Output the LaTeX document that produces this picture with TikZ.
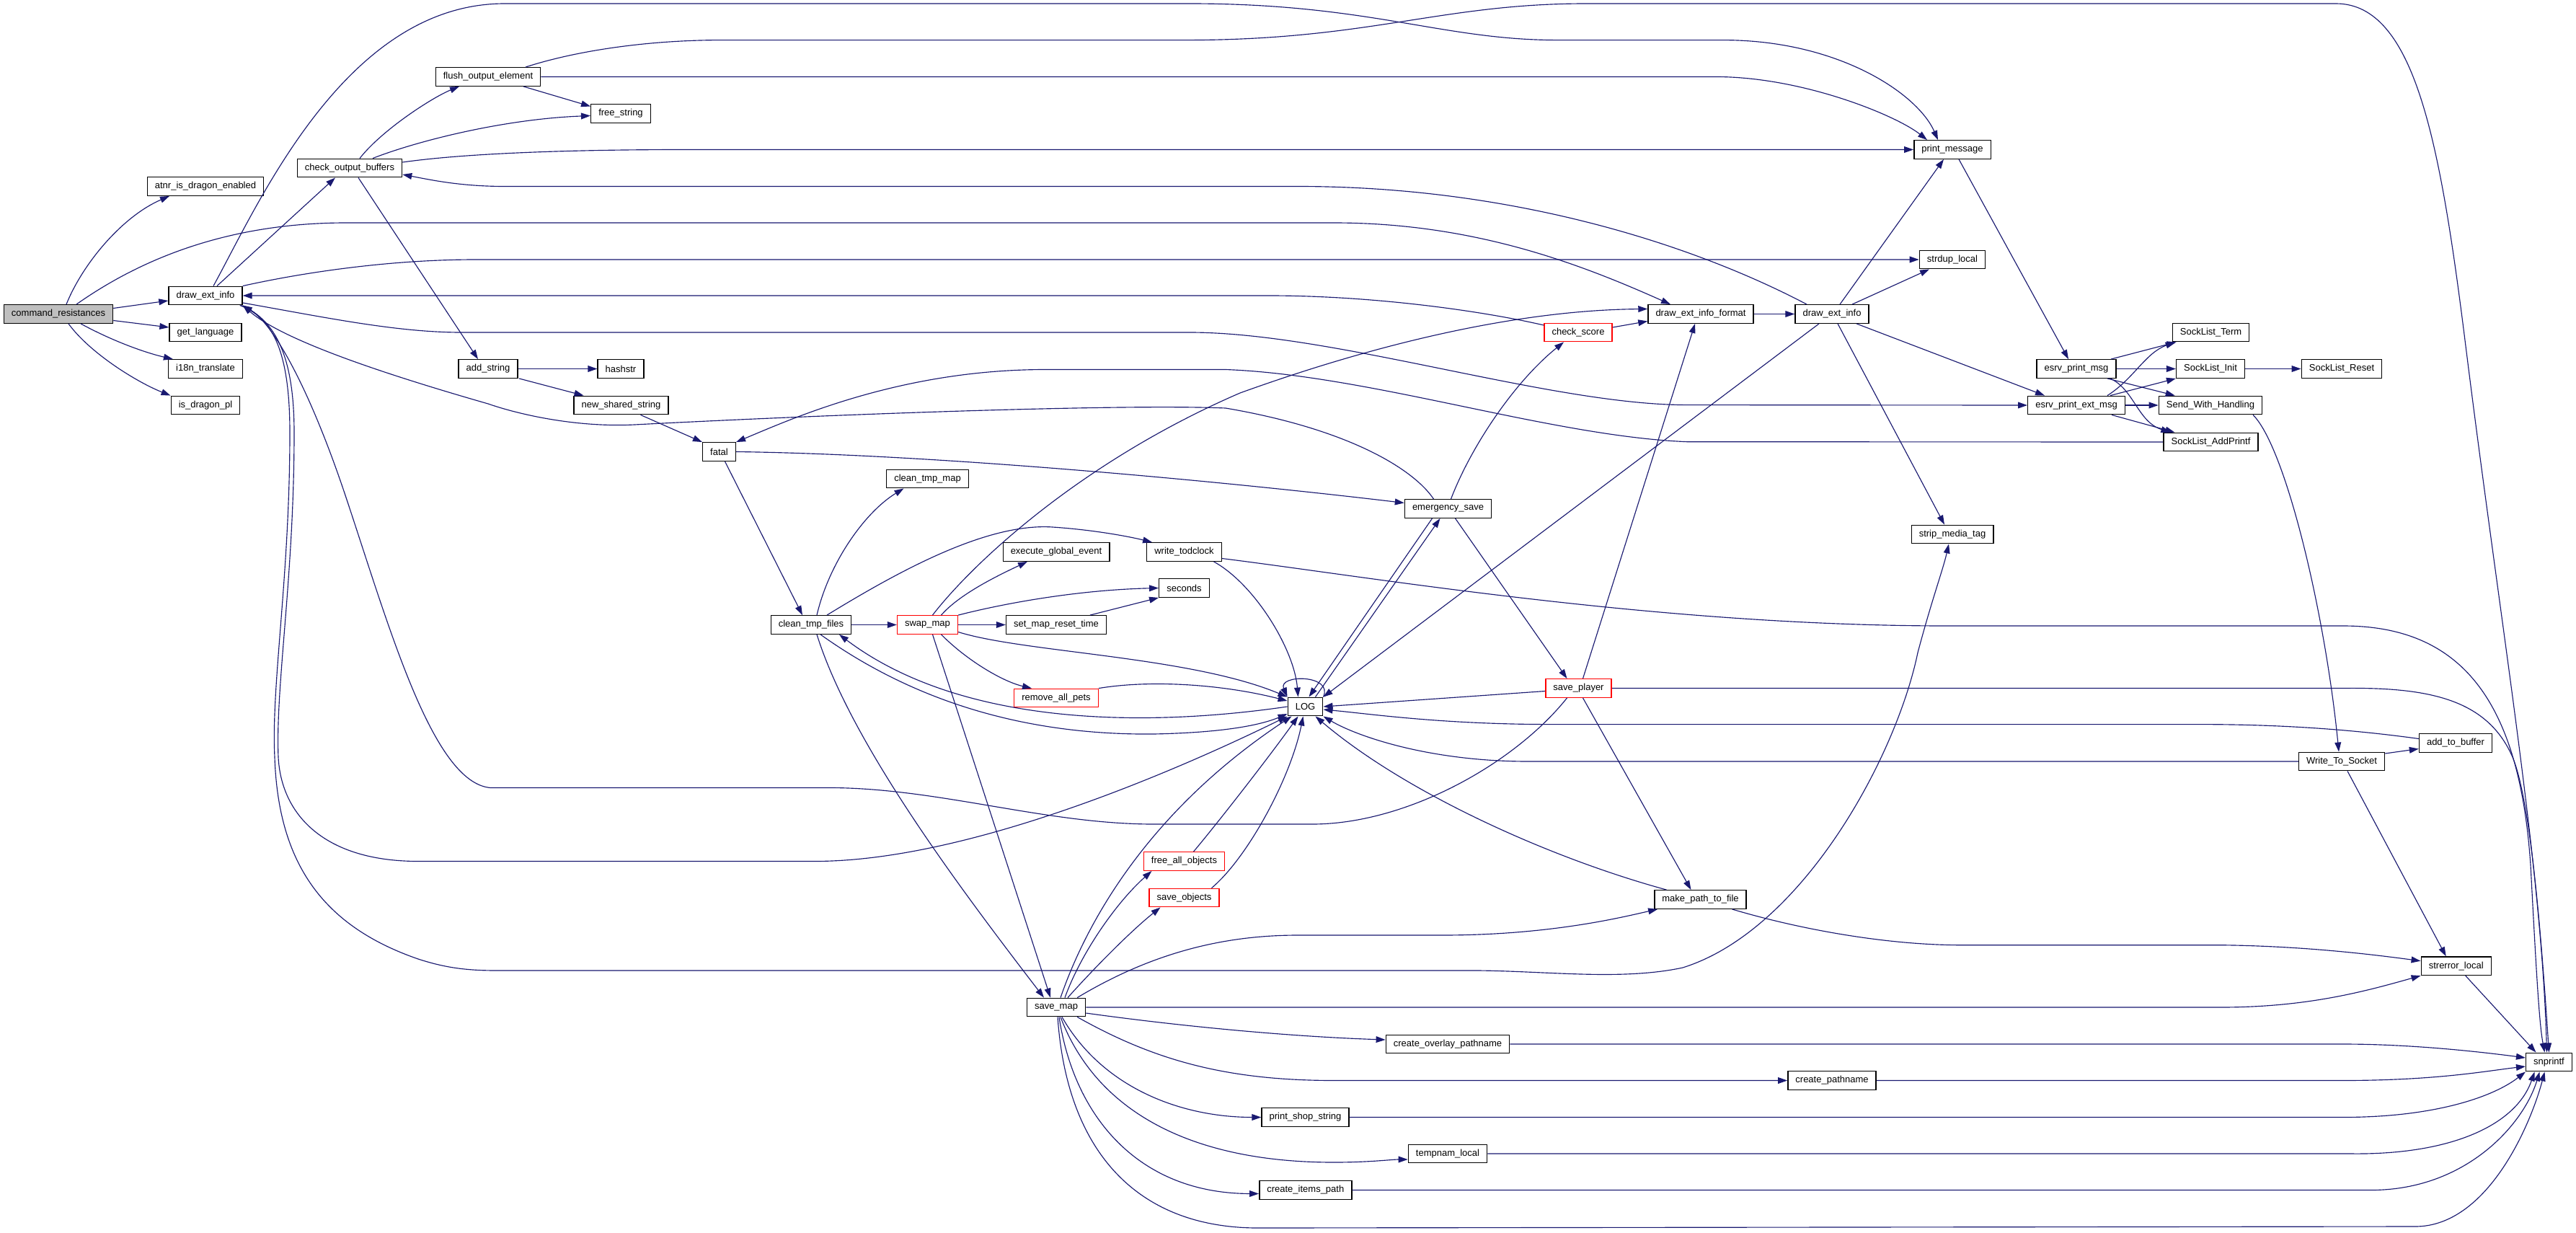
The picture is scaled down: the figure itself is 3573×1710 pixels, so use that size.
\documentclass[tikz,border=0pt]{standalone}
\usepackage{fontspec}
\setmainfont{Liberation Sans}
\usetikzlibrary{arrows.meta,calc}
\definecolor{edgec}{HTML}{191970}
\definecolor{rootfill}{HTML}{BFBFBF}
\tikzset{
  box/.style={draw=black, line width=0.8pt, fill=white, minimum height=14.5pt, inner xsep=6pt, inner ysep=0pt, font=\fontsize{7.4}{8}\selectfont},
  redbox/.style={box, draw=red},
  rootbox/.style={box, fill=rootfill},
  edge/.style={draw=edgec, line width=0.65pt, -{Triangle[length=7.4pt,width=5pt]}}
}
\begin{document}
\begin{tikzpicture}[x=0.02cm,y=-0.02cm]
\useasboundingbox (0,0) rectangle (3573,1710);
% nodes
\node[rootbox] (cr) at (81,435.5) {command\_resistances};
\node[box] (atnr) at (285,258.5) {atnr\_is\_dragon\_enabled};
\node[box] (dei) at (285,410) {draw\_ext\_info};
\node[box] (getl) at (285,461) {get\_language};
\node[box] (i18n) at (285,511.5) {i18n\_translate};
\node[box] (isd) at (285,562) {is\_dragon\_pl};
\node[box] (cob) at (485,233) {check\_output\_buffers};
\node[box] (foe) at (677,106.5) {flush\_output\_element};
\node[box] (fs) at (861,157.5) {free\_string};
\node[box] (adds) at (677,511.5) {add\_string};
\node[box] (hash) at (861,511.5) {hashstr};
\node[box] (nss) at (861.5,562) {new\_shared\_string};
\node[box] (fatal) at (997.5,626.5) {fatal};
\node[box] (ctm) at (1286.5,664) {clean\_tmp\_map};
\node[box] (ctf) at (1125,866.5) {clean\_tmp\_files};
\node[redbox] (swap) at (1286.5,866.5) {swap\_map};
\node[box] (ege) at (1465,765.5) {execute\_global\_event};
\node[box] (wtc) at (1642.5,765.5) {write\_todclock};
\node[box] (sec) at (1642.5,815.5) {seconds};
\node[box] (smrt) at (1465,866.5) {set\_map\_reset\_time};
\node[redbox] (rap) at (1465,968) {remove\_all\_pets};
\node[box] (es) at (2008.5,705.5) {emergency\_save};
\node[box] (log) at (1810.5,980) {LOG};
\node[redbox] (sp) at (2189.5,954.5) {save\_player};
\node[box] (deif) at (2359,435.5) {draw\_ext\_info\_format};
\node[box] (dei2) at (2541,435.5) {draw\_ext\_info};
\node[redbox] (cs) at (2189,461) {check\_score};
\node[box] (pm) at (2708,207.5) {print\_message};
\node[box] (sdl) at (2708,360) {strdup\_local};
\node[box] (epm) at (2880,511.5) {esrv\_print\_msg};
\node[box] (epem) at (2880,562) {esrv\_print\_ext\_msg};
\node[box] (slt) at (3066.5,461) {SockList\_Term};
\node[box] (sli) at (3066,511.5) {SockList\_Init};
\node[box] (slr) at (3248,511.5) {SockList\_Reset};
\node[box] (swh) at (3066,562) {Send\_With\_Handling};
\node[box] (slap) at (3066.5,613) {SockList\_AddPrintf};
\node[box] (smt) at (2708,741) {strip\_media\_tag};
\node[box] (atb) at (3406,1030.5) {add\_to\_buffer};
\node[box] (wts) at (3248,1056) {Write\_To\_Socket};
\node[redbox] (fao) at (1642.5,1194.5) {free\_all\_objects};
\node[redbox] (so) at (1642.5,1245) {save\_objects};
\node[box] (smap) at (1465,1397) {save\_map};
\node[box] (mptf) at (2358.5,1247.5) {make\_path\_to\_file};
\node[box] (cop) at (2008,1448) {create\_overlay\_pathname};
\node[box] (cp) at (2541,1498.5) {create\_pathname};
\node[box] (pss) at (1810.5,1549.5) {print\_shop\_string};
\node[box] (tl) at (2008,1600) {tempnam\_local};
\node[box] (cip) at (1810.8,1650.5) {create\_items\_path};
\node[box] (sel) at (3406.7,1339.7) {strerror\_local};
\node[box] (snp) at (3535.5,1473) {snprintf};
% edges from command_resistances
\draw[edge] ($(cr.north)+(11,0)$) .. controls (115,365) and (170,300) .. ($(atnr.south)+(-50,0)$);
\draw[edge] ($(cr.east)+(0,-8)$) -- ($(dei.west)+(0,7)$);
\draw[edge] ($(cr.east)+(0,9)$) -- ($(getl.west)+(0,-7)$);
\draw[edge] ($(cr.south)+(31,0)$) .. controls (160,475) and (205,490) .. ($(i18n.north west)+(7,0)$);
\draw[edge] ($(cr.south)+(14,0)$) .. controls (125,490) and (190,530) .. (isd.north west);
\draw[edge] ($(cr.north)+(25,0)$) .. controls (180,370) and (300,309) .. (480,309) -- (1850,309) .. controls (2050,309) and (2200,370) .. ($(deif.north)+(-42,0)$);
% draw_ext_info (left)
\draw[edge] ($(dei.north)+(16,0)$) -- ($(cob.south)+(-20,0)$);
\draw[edge] ($(dei.north)+(11,0)$) .. controls (360,280) and (480,5) .. (700,5) -- (1650,5) .. controls (1900,5) and (2000,55.6) .. (2160,55.6) -- (2390,55.6) .. controls (2550,55.6) and (2660,130) .. ($(pm.north)+(-20,0)$);
\draw[edge] (dei.north east) .. controls (420,378) and (540,360) .. (660,360) -- (sdl.west);
\draw[edge] ($(dei.east)+(0,10)$) .. controls (450,440) and (550,461) .. (640,461) -- (1650,461) .. controls (1850,461) and (2150,561.6) .. (2340,561.6) -- (epem.west);
\draw[edge] ($(dei.south east)+(-4,0)$) .. controls (375,440) and (402,480) .. (402,600) .. controls (402,800) and (376,950) .. (381,1050) .. controls (386,1200) and (450,1285) .. (580,1330) .. controls (620,1343) and (650,1346) .. (690,1346) -- (2050,1346) .. controls (2150,1347) and (2250,1360) .. (2334,1342) .. controls (2500,1290) and (2630,1050) .. (2660,905) .. controls (2680,830) and (2695,790) .. ($(smt.south)+(-5,0)$);
\draw[edge] ($(dei.south east)+(-2,0)$) .. controls (385,445) and (408,500) .. (408,600) .. controls (408,800) and (382,950) .. (386,1050) .. controls (390,1130) and (450,1194.5) .. (580,1194.5) -- (1130,1194.5) .. controls (1350,1194.5) and (1650,1060) .. (log.south west);
% into draw_ext_info (left)
\draw[edge] ($(sp.south)+(-16,0)$) .. controls (2100,1060) and (1950,1143) .. (1820,1143) -- (1600,1143) .. controls (1450,1143) and (1300,1092.5) .. (1150,1092.5) -- (680,1092.5) .. controls (600,1085) and (540,870) .. (480,690) .. controls (430,540) and (380,450) .. (dei.south east);
\draw[edge] ($(es.north)+(-20,0)$) .. controls (1960,650) and (1870,595) .. (1700,566) .. controls (1550,560) and (1150,575) .. (880,589) .. controls (800,593) and (720,575) .. (677,560) .. controls (520,515) and (390,470) .. (dei.south east);
\draw[edge] ($(cs.west)+(0,-10)$) .. controls (2050,430) and (1900,410) .. (1760,410) -- (dei.east);
\draw[edge] ($(cs.east)+(0,-7)$) -- ($(deif.west)+(0,10)$);
\draw[edge] (deif.east) -- (dei2.west);
% draw_ext_info (right)
\draw[edge] ($(dei2.north)+(-35,0)$) .. controls (2350,340) and (2100,258.5) .. (1800,258.5) -- (700,258.5) .. controls (640,258.5) and (600,250) .. ($(cob.east)+(0,9)$);
\draw[edge] ($(dei2.north)+(11,0)$) -- ($(pm.south)+(-12,0)$);
\draw[edge] ($(dei2.north)+(28,0)$) -- ($(sdl.south)+(-32,0)$);
\draw[edge] ($(dei2.south)+(34,0)$) -- ($(epem.north)+(-44,0)$);
\draw[edge] ($(dei2.south)+(8,0)$) -- ($(smt.north)+(-11,0)$);
\draw[edge] ($(dei2.south)+(-18,0)$) -- (log.north east);
\draw[edge] ($(pm.south)+(9,0)$) -- ($(epm.north)+(-11,0)$);
% check_output_buffers etc.
\draw[edge] ($(cob.north)+(14,0)$) .. controls (530,180) and (600,135) .. ($(foe.south)+(-40,0)$);
\draw[edge] ($(cob.north)+(32,0)$) .. controls (580,195) and (700,165) .. ($(fs.west)+(0,3)$);
\draw[edge] ($(cob.east)+(0,-8)$) .. controls (650,212) and (800,207.5) .. (950,207.5) -- (pm.west);
\draw[edge] ($(cob.south)+(12,0)$) -- ($(adds.north)+(-14,0)$);
\draw[edge] ($(foe.south)+(49,0)$) -- ($(fs.west)+(0,-10)$);
\draw[edge] ($(foe.north)+(52,0)$) .. controls (800,70) and (900,55.6) .. (1000,55.6) -- (1650,55.6) .. controls (1900,55) and (2000,5) .. (2200,5) -- (3240,5) .. controls (3350,5) and (3385,200) .. (3420,480) .. controls (3470,880) and (3525,1200) .. ($(snp.north)+(-3,0)$);
\draw[edge] (foe.east) -- (2380,106.5) .. controls (2500,106.5) and (2630,160) .. ($(pm.north)+(-35,0)$);
\draw[edge] (adds.east) -- (hash.west);
\draw[edge] ($(adds.south)+(43,0)$) -- ($(nss.north)+(-52,0)$);
\draw[edge] ($(nss.south)+(27,0)$) -- (fatal.north west);
\draw[edge] (slap.west) -- (2340,612.7) .. controls (2150,605) and (1900,520) .. (1700,512.5) -- (1450,512.5) .. controls (1250,512.5) and (1100,580) .. (fatal.north east);
% fatal, clean_tmp_files, swap_map
\draw[edge] (fatal.east) .. controls (1300,630) and (1700,668) .. ($(es.west)+(0,-8)$);
\draw[edge] ($(fatal.south)+(8,0)$) -- ($(ctf.north)+(-12,0)$);
\draw[edge] ($(ctf.north)+(8,0)$) .. controls (1150,780) and (1200,710) .. ($(ctm.south)+(-33,0)$);
\draw[edge] ($(ctf.north)+(22,0)$) .. controls (1250,790) and (1370,725) .. (1460,731) .. controls (1520,735) and (1570,745) .. ($(wtc.north west)+(8,0)$);
\draw[edge] (ctf.east) -- (swap.west);
\draw[edge] ($(ctf.south)+(8,0)$) .. controls (1180,1030) and (1330,1230) .. ($(smap.north)+(-17,0)$);
\draw[edge] ($(ctf.south)+(13,0)$) .. controls (1250,960) and (1400,1020) .. (1600,1018) .. controls (1700,1016) and (1750,1005) .. ($(log.west)+(0,10)$);
\draw[edge] (log.west) .. controls (1580,1010) and (1330,1005) .. ($(ctf.south)+(39,0)$);
\draw[edge] ($(swap.north)+(19,0)$) .. controls (1330,825) and (1380,800) .. ($(ege.south)+(-40,0)$);
\draw[edge] (swap.north east) .. controls (1400,835) and (1500,818) .. (sec.west);
\draw[edge] (swap.east) -- (smrt.west);
\draw[edge] ($(smrt.north)+(47,0)$) -- (sec.south west);
\draw[edge] ($(swap.south)+(19,0)$) .. controls (1340,915) and (1390,945) .. ($(rap.north)+(-34,0)$);
\draw[edge] (rap.north east) .. controls (1600,942) and (1700,950) .. ($(log.west)+(0,-8)$);
\draw[edge] ($(swap.east)+(0,10)$) .. controls (1420,905) and (1650,910) .. (log.north west);
\draw[edge] ($(swap.south)+(7,0)$) -- ($(smap.north)+(-8,0)$);
\draw[edge] ($(swap.north)+(7,0)$) .. controls (1350,780) and (1500,640) .. (1720,545) .. controls (1900,480) and (2100,430) .. ($(deif.west)+(0,-7)$);
% write_todclock
\draw[edge] ($(wtc.south)+(41,0)$) .. controls (1740,810) and (1795,900) .. ($(log.north)+(-10,0)$);
\draw[edge] ($(wtc.east)+(0,9)$) .. controls (1900,800) and (2300,868) .. (2700,868) -- (3250,868) .. controls (3420,868) and (3495,980) .. (3510,1200) .. controls (3518,1350) and (3522,1420) .. ($(snp.north)+(-6,0)$);
\draw[edge] ($(sel.south)+(13,0)$) -- ($(snp.north)+(-18,0)$);
% emergency_save, save_player, LOG
\draw[edge] (sp.east) -- (3250,954.5) .. controls (3370,953) and (3450,970) .. (3485,1050) .. controls (3510,1110) and (3525,1300) .. (snp.north);
\draw[edge] ($(es.north)+(4,0)$) .. controls (2040,620) and (2100,530) .. ($(cs.south)+(-20,0)$);
\draw[edge] ($(es.south)+(-22,0)$) -- ($(log.north)+(5,0)$);
\draw[edge] ($(log.north)+(14,0)$) -- ($(es.south)+(-11,0)$);
\draw[edge] ($(es.south)+(10,0)$) -- ($(sp.north)+(-16,0)$);
\draw[edge] (log.north east) .. controls (1850,935) and (1772,935) .. (log.north west);
\draw[edge] ($(sp.north)+(6,0)$) -- ($(deif.south)+(-8,0)$);
\draw[edge] ($(sp.west)+(0,4)$) -- (log.east);
\draw[edge] ($(sp.south)+(6,0)$) -- ($(mptf.north)+(-13,0)$);
% make_path_to_file, save_map
\draw[edge] ($(mptf.north)+(-47,0)$) .. controls (2150,1190) and (1950,1100) .. ($(log.south)+(14,0)$);
\draw[edge] ($(mptf.south)+(44,0)$) .. controls (2500,1290) and (2620,1310.7) .. (2720,1310.7) -- (3080,1310.7) .. controls (3200,1312) and (3300,1325) .. ($(sel.west)+(0,-7)$);
\draw[edge] (smap.east) -- (3080,1397) .. controls (3200,1397) and (3280,1375) .. (sel.south west);
\draw[edge] ($(smap.north east)+(-12,0)$) .. controls (1600,1320) and (1700,1297) .. (1800,1297) -- (2000,1297) .. controls (2150,1297) and (2250,1272) .. ($(mptf.south west)+(5,0)$);
\draw[edge] ($(smap.north)+(6,0)$) .. controls (1510,1270) and (1600,1120) .. ($(log.south west)+(6,0)$);
\draw[edge] ($(smap.north)+(12,0)$) .. controls (1500,1320) and (1550,1250) .. ($(fao.south)+(-45,0)$);
\draw[edge] ($(smap.north)+(16,0)$) .. controls (1520,1340) and (1570,1290) .. ($(so.south)+(-33,0)$);
\draw[edge] ($(fao.north)+(13,0)$) .. controls (1690,1140) and (1760,1050) .. ($(log.south)+(-10,0)$);
\draw[edge] ($(so.north)+(38,0)$) .. controls (1730,1190) and (1790,1080) .. ($(log.south)+(-3,0)$);
\draw[edge] ($(smap.east)+(0,8)$) .. controls (1650,1425) and (1800,1438) .. ($(cop.west)+(0,-6)$);
\draw[edge] ($(smap.south east)+(-12,0)$) .. controls (1600,1470) and (1700,1498.5) .. (1850,1498.5) -- (cp.west);
\draw[edge] ($(smap.south)+(8,0)$) .. controls (1530,1510) and (1640,1549.5) .. (pss.west);
\draw[edge] ($(smap.south)+(6,0)$) .. controls (1520,1540) and (1650,1612) .. (1850,1612) .. controls (1900,1612) and (1930,1608) .. ($(tl.west)+(0,8)$);
\draw[edge] ($(smap.south)+(4,0)$) .. controls (1490,1550) and (1580,1655) .. ($(cip.west)+(0,5)$);
\draw[edge] ($(smap.south)+(2,0)$) .. controls (1480,1600) and (1580,1705) .. (1750,1703) -- (3350,1701) .. controls (3450,1701) and (3510,1560) .. ($(snp.south)+(-6,0)$);
\draw[edge] (cop.east) -- (3250,1448) .. controls (3350,1448) and (3450,1460) .. ($(snp.west)+(0,-6)$);
\draw[edge] (cp.east) -- (3250,1498.5) .. controls (3380,1498.5) and (3450,1485) .. ($(snp.west)+(0,6)$);
\draw[edge] (pss.east) -- (3250,1549.5) .. controls (3380,1549.5) and (3460,1520) .. (snp.south west);
\draw[edge] (tl.east) -- (3260,1600) .. controls (3400,1602) and (3490,1560) .. ($(snp.south)+(-20,0)$);
\draw[edge] (cip.east) -- (3290,1650.5) .. controls (3420,1650) and (3500,1560) .. ($(snp.south)+(-13,0)$);
% socket side
\draw[edge] ($(epm.north)+(48,0)$) -- ($(slt.south west)+(6,0)$);
\draw[edge] (epm.east) -- (sli.west);
\draw[edge] ($(epm.south)+(43,0)$) -- ($(swh.north west)+(23,0)$);
\draw[edge] ($(epm.south)+(47,0)$) .. controls (2960,540) and (2965,585) .. ($(slap.north west)+(10,0)$);
\draw[edge] ($(epem.north)+(43,0)$) .. controls (2960,525) and (2975,490) .. ($(slt.south west)+(4,0)$);
\draw[edge] ($(epem.north)+(47,0)$) -- (sli.south west);
\draw[edge] (epem.east) -- (swh.west);
\draw[edge] ($(epem.south)+(49,0)$) -- ($(slap.north west)+(16,0)$);
\draw[edge] (sli.east) -- (slr.west);
\draw[edge] ($(swh.south)+(59,0)$) .. controls (3170,620) and (3225,850) .. ($(wts.north)+(-4,0)$);
\draw[edge] ($(wts.east)+(0,-11)$) -- ($(atb.west)+(0,8)$);
\draw[edge] ($(atb.west)+(0,-6)$) .. controls (3250,1010) and (3150,1004.6) .. (3050,1004.6) -- (2150,1004.6) .. controls (2000,1004.6) and (1900,990) .. ($(log.east)+(0,4)$);
\draw[edge] (wts.west) -- (2120,1056) .. controls (1980,1056) and (1880,1020) .. (log.south east);
\draw[edge] ($(wts.south)+(8,0)$) -- ($(sel.north)+(-14,0)$);
\end{tikzpicture}
\end{document}
